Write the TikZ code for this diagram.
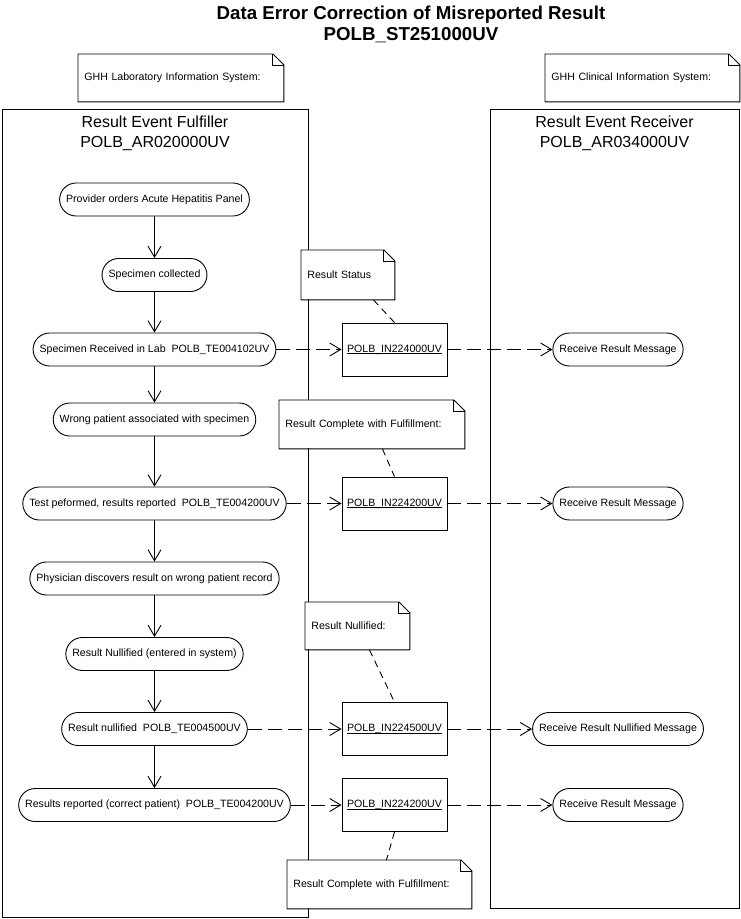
\documentclass[tikz,border=0pt]{standalone}
\usepackage{fontspec}
\setmainfont{Liberation Sans}
\usetikzlibrary{calc,positioning,arrows.meta}

\begin{document}
\begin{tikzpicture}[x=1pt, y=-1pt, line width=0.9pt, font=\fontsize{10.6}{12.7}\selectfont,
  act/.style={draw, fill=white, rounded corners=16.5pt, minimum height=33pt, inner xsep=6.5pt, inner ysep=2pt},
  msgbox/.style={draw, fill=white, minimum width=105pt, minimum height=53pt},
  note/.style={fill=white, anchor=north west, inner xsep=6pt, align=left},
  lane/.style={draw, anchor=north west},
  flow/.style={-{Straight Barb[length=11pt, width=13pt]}},
  msg/.style={flow, dash pattern=on 14pt off 6pt},
  link/.style={dash pattern=on 7pt off 5pt}]
\useasboundingbox (0,0) rectangle (741,919);
\node[font=\bfseries\fontsize{18.7}{21}\selectfont, align=center] (title) at (411,24.5) {Data Error Correction of Misreported Result\\POLB\_ST251000UV};
% swim lanes
\node[lane, minimum width=306pt, minimum height=808pt] (fulfiller) at (2,109) {};
\node[lane, minimum width=249pt, minimum height=799pt] (receiver) at (490,109) {};
\node[font=\fontsize{16}{20}\selectfont, align=center] (fultitle) at (155,133) {Result Event Fulfiller\\POLB\_AR020000UV};
\node[font=\fontsize{16}{20}\selectfont, align=center] (rectitle) at (614.5,133) {Result Event Receiver\\POLB\_AR034000UV};
% activities of the fulfiller
\foreach \i/\y/\t in {1/199.5/Provider orders Acute Hepatitis Panel, 2/275/Specimen collected,
  3/349.5/{Specimen Received in Lab~~POLB\_TE004102UV}, 4/419.5/Wrong patient associated with specimen,
  5/503.5/{Test peformed, results reported~~POLB\_TE004200UV}, 6/578.5/Physician discovers result on wrong patient record,
  7/654/Result Nullified (entered in system), 8/729/{Result nullified~~POLB\_TE004500UV},
  9/805/{Results reported (correct patient)~~POLB\_TE004200UV}}{
\node[act] (a\i) at (154.5,\y) {\t};
}
\foreach \i in {1,...,8}{\draw[flow] let \n1 = {int(\i+1)} in (a\i) -- (a\n1);}
% messages and receiver
\foreach \m/\y/\t in {1/349.5/POLB\_IN224000UV, 2/503.5/POLB\_IN224200UV, 3/729/POLB\_IN224500UV, 4/805/POLB\_IN224200UV}{
\node[msgbox] (m\m) at (394.5,\y) {\underline{\smash{\t}}\rule[-2.5pt]{0pt}{10.5pt}};
}
\node[act] (r1) at (618,349.5) {Receive Result Message};
\node[act] (r2) at (618,503.5) {Receive Result Message};
\node[act] (r3) at (618,729) {Receive Result Nullified Message};
\node[act] (r4) at (618,805) {Receive Result Message};
\foreach \a/\m in {3/1,5/2,8/3,9/4}{\draw[msg] (a\a) -- (m\m); \draw[msg] (m\m) -- (r\m);}
% notes
\node[note, text width=193pt, minimum height=47pt] (labnote) at (78,54) {GHH Laboratory Information System:};
\node[note, text width=182pt, minimum height=47pt] (clinote) at (545,54) {GHH Clinical Information System:};
\node[note, text width=81pt, minimum height=49pt] (statusnote) at (301,250) {Result Status};
\node[note, text width=173pt, minimum height=48pt] (donenote) at (279,400) {Result Complete with Fulfillment:};
\node[note, text width=92pt, minimum height=47pt] (nullnote) at (305,602) {Result Nullified:};
\node[note, text width=172pt, minimum height=48pt] (fixnote) at (287,860) {Result Complete with Fulfillment:};
\foreach \n in {labnote,clinote,statusnote,donenote,nullnote,fixnote}{
\draw (\n.south west) -- (\n.north west) -- ([xshift=-11pt]\n.north east) -- ([yshift=-11pt]\n.north east) -- (\n.south east) -- cycle;
\draw ([xshift=-11pt]\n.north east) |- ([yshift=-11pt]\n.north east);
}
\draw[link] ([xshift=25.5pt]statusnote.south) -- (m1.north);
\draw[link] ([xshift=10.5pt]donenote.south) -- (m2.north);
\draw[link] ([xshift=12pt]nullnote.south) -- (m3.north);
\draw[link] (m4.south) -- ([xshift=7pt]fixnote.north);
\end{tikzpicture}
\end{document}
